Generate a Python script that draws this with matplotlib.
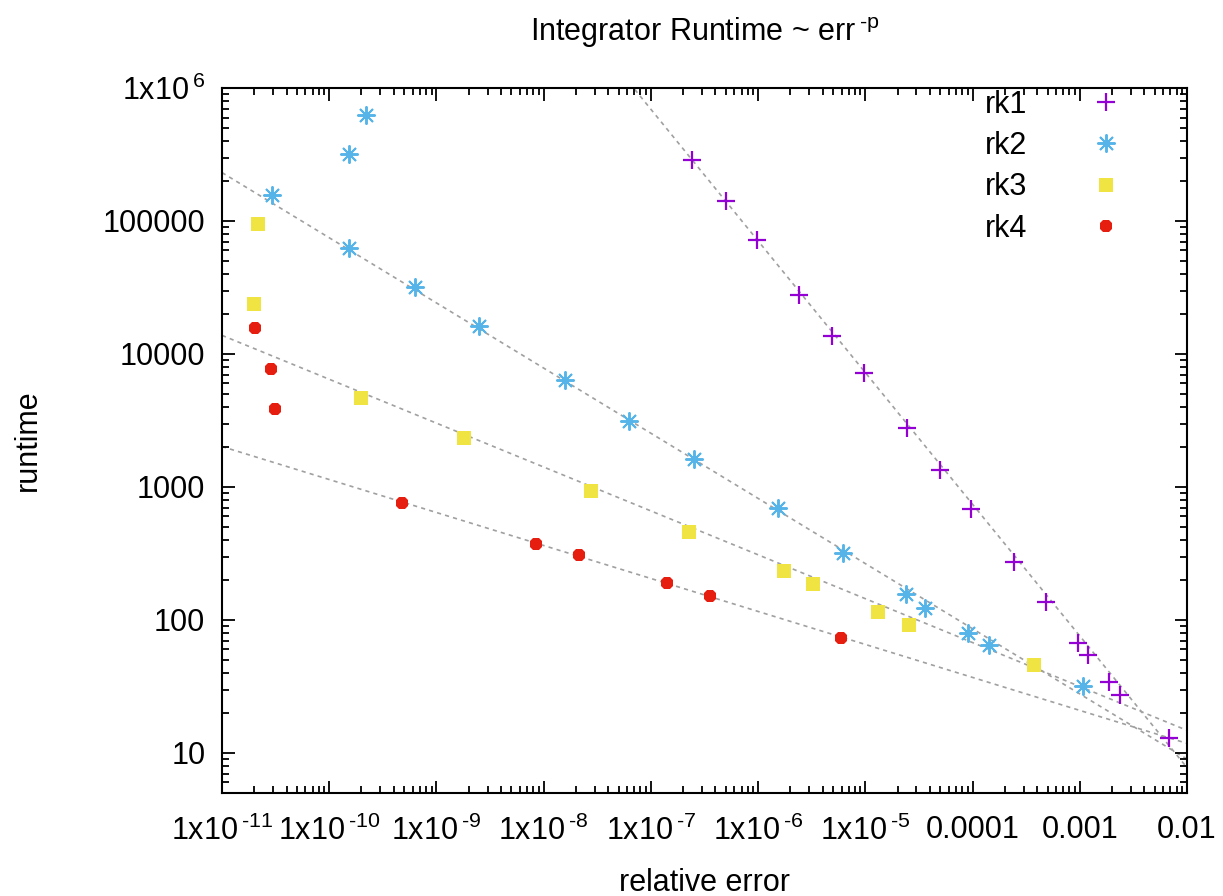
import numpy as np
import matplotlib
matplotlib.use('Agg')
import matplotlib.pyplot as plt
from matplotlib.ticker import FixedLocator, LogLocator, NullFormatter

plt.rcParams['font.family'] = ['Liberation Sans', 'DejaVu Sans']
plt.rcParams['mathtext.fontset'] = 'custom'
plt.rcParams['mathtext.rm'] = 'Liberation Sans'
plt.rcParams['mathtext.it'] = 'Liberation Sans:italic'

# measured points (relative error, runtime)
rk1_err = [2.42e-7, 5.0e-7, 9.8e-7, 2.41e-6, 4.9e-6, 9.75e-6, 2.45e-5, 4.99e-5,
           9.7e-5, 2.44e-4, 4.86e-4, 9.66e-4, 1.2e-3, 1.88e-3, 2.38e-3, 6.8e-3]
rk1_time = [287000, 141000, 71700, 27600, 13600, 7150, 2800, 1350,
            687, 274, 137, 67.3, 54.7, 34.3, 27.3, 13.0]

rk2_err = [2.92e-11, 1.53e-10, 2.2e-10, 1.53e-10, 6.3e-10, 2.49e-9, 1.58e-8, 6.27e-8,
           2.53e-7, 1.54e-6, 6.21e-6, 2.4e-5, 3.61e-5, 9.1e-5, 1.43e-4, 1.08e-3]
rk2_time = [156000, 318000, 626000, 62400, 31700, 16100, 6330, 3160,
            1610, 700, 321, 157, 124, 80, 65, 32]

rk3_err = [2.17e-11, 1.99e-11, 1.98e-10, 1.81e-9, 2.77e-8, 2.27e-7, 1.75e-6, 3.26e-6,
           1.31e-5, 2.57e-5, 3.76e-4]
rk3_time = [94600, 23600, 4630, 2350, 940, 461, 235, 187, 115, 92, 46]

rk4_err = [2.03e-11, 2.86e-11, 3.12e-11, 4.78e-10, 8.49e-9, 2.14e-8, 1.42e-7, 3.56e-7, 5.94e-6]
rk4_time = [15600, 7660, 3890, 764, 375, 310, 191, 152, 73]

# fitted power laws: runtime = 10**loga * err**(-p)
fit_p = [0.99, 0.49, 0.33, 0.248]
fit_loga = [-1.09, -0.026, 0.51, 0.576]

labels = ['rk1', 'rk2', 'rk3', 'rk4']
colors = ['#9400d3', '#56b4e9', '#f0e442', '#e51e10']

fig = plt.figure(figsize=(12.23, 8.96), dpi=100)
ax = fig.add_axes([222/1223, 103/896, 965/1223, 705/896])

# fit lines
xs = np.logspace(-11, -2, 100)
for p, la in zip(fit_p, fit_loga):
    ax.plot(xs, 10**la * xs**(-p), color='#a0a0a0', lw=1.2,
            linestyle=(0, (2.5, 2.5)), zorder=1)

ax.plot(rk1_err, rk1_time, linestyle='none', marker='+', ms=13, mew=1.6,
        color=colors[0], label=labels[0], zorder=3)
ax.plot(rk2_err, rk2_time, linestyle='none', marker=(8, 2, 0), ms=13, mew=1.4,
        color=colors[1], label=labels[1], zorder=3)
ax.plot(rk3_err, rk3_time, linestyle='none', marker='s', ms=10, mew=0,
        color=colors[2], label=labels[2], zorder=3)
ax.plot(rk4_err, rk4_time, linestyle='none', marker='8', ms=10, mew=0,
        color=colors[3], label=labels[3], zorder=3)

ax.set_xscale('log')
ax.set_yscale('log')
ax.set_xlim(1e-11, 1e-2)
ax.set_ylim(5, 1e6)

def sci(e):
    return r'$\mathregular{1x10\,^{\text{%s}}}$' % e

xt = [1e-11, 1e-10, 1e-9, 1e-8, 1e-7, 1e-6, 1e-5, 1e-4, 1e-3, 1e-2]
xtl = [sci('-11'), sci('-10'), sci('-9'), sci('-8'), sci('-7'), sci('-6'), sci('-5'),
       '0.0001', '0.001', '0.01']
yt = [10, 100, 1000, 10000, 100000, 1e6]
ytl = ['10', '100', '1000', '10000', '100000', sci('6')]
ax.xaxis.set_major_locator(FixedLocator(xt))
ax.set_xticklabels(xtl)
ax.yaxis.set_major_locator(FixedLocator(yt))
ax.set_yticklabels(ytl)
ax.xaxis.set_minor_locator(LogLocator(base=10, subs=np.arange(2, 10), numticks=20))
ax.yaxis.set_minor_locator(LogLocator(base=10, subs=np.arange(2, 10), numticks=20))
ax.xaxis.set_minor_formatter(NullFormatter())
ax.yaxis.set_minor_formatter(NullFormatter())

ax.tick_params(which='both', direction='in', top=True, right=True, labelsize=22,
               width=1.3, colors='black')
ax.tick_params(which='major', length=9)
ax.tick_params(which='minor', length=5)
ax.tick_params(axis='x', which='major', pad=16)
ax.tick_params(axis='y', which='major', pad=12)
for s in ax.spines.values():
    s.set_linewidth(1.5)

ax.set_xlabel('relative error', fontsize=22)
ax.set_ylabel('runtime', fontsize=22)
ax.xaxis.set_label_coords(0.5, -0.107)
ax.yaxis.set_label_coords(-0.186, 0.5)
ax.set_title(r'Integrator Runtime ~ err$\mathregular{\,^{\text{-p}}}$', fontsize=22, pad=34)

ax.legend(loc='upper left', bbox_to_anchor=(0.784, 1.006), frameon=False,
          markerfirst=False, fontsize=22, handlelength=1.0, handletextpad=2.1,
          labelspacing=0.37, borderaxespad=0.0, borderpad=0.2)

fig.savefig('out.png', dpi=100)
